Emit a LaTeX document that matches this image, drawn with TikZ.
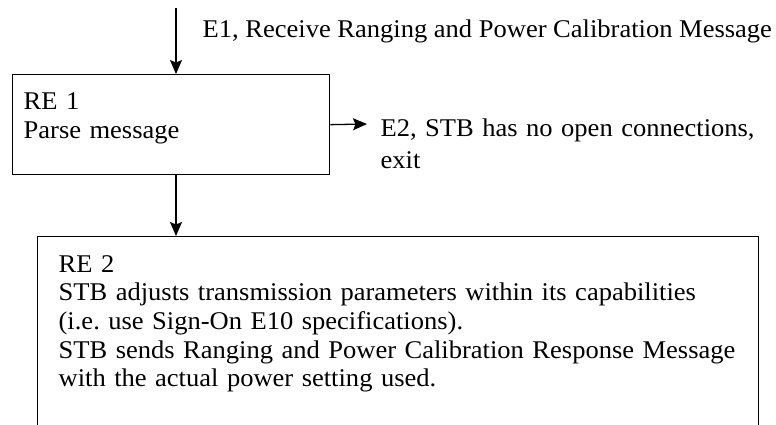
\documentclass[tikz,border=0pt]{standalone}
\usepackage{fontspec}
\setmainfont[FakeStretch=1.04]{Liberation Serif}
\usetikzlibrary{arrows.meta}
\begin{document}
\frenchspacing
\begin{tikzpicture}[x=1pt,y=-1pt,line width=1.3pt,
  arr/.style={-{Stealth[length=14pt,width=12pt,inset=2.5pt]}},
  box/.style={draw,anchor=north west,inner sep=0pt},
  txt/.style={anchor=base west,inner sep=0pt,align=left,font=\fontsize{25.5}{29}\selectfont}]
\useasboundingbox (0,0) rectangle (776,424);
\begin{scope}
\clip (0,0) rectangle (776,424);
\node[box,minimum width=317pt,minimum height=100pt] (b1) at (12,74) {};
\node[box,minimum width=721pt,minimum height=220pt] (b2) at (37,236) {};
\coordinate (in) at (176,8);
\coordinate (e2end) at (367,124);
\node[txt] (e1) at (202,37) {E1, Receive Ranging and Power Calibration Message};
\node[txt,text width=300pt] (t1) at (23,109) {RE 1\\Parse message};
\node[txt,text width=390pt,font=\fontsize{25.5}{32}\selectfont] (e2) at (380,136) {E2, STB has no open connections,\\exit};
\node[txt,text width=700pt,font=\fontsize{25.5}{28.7}\selectfont] (t2) at (58,272) {RE 2\\STB adjusts transmission parameters within its capabilities\\(i.e. use Sign-On E10 specifications).\\STB sends Ranging and Power Calibration Response Message\\with the actual power setting used.};
\draw[arr] (in) -- (in |- b1.north);
\draw[arr] (b1.east) -- (e2end);
\draw[arr] (in |- b1.south) -- (in |- b2.north);
\end{scope}
\end{tikzpicture}
\end{document}
